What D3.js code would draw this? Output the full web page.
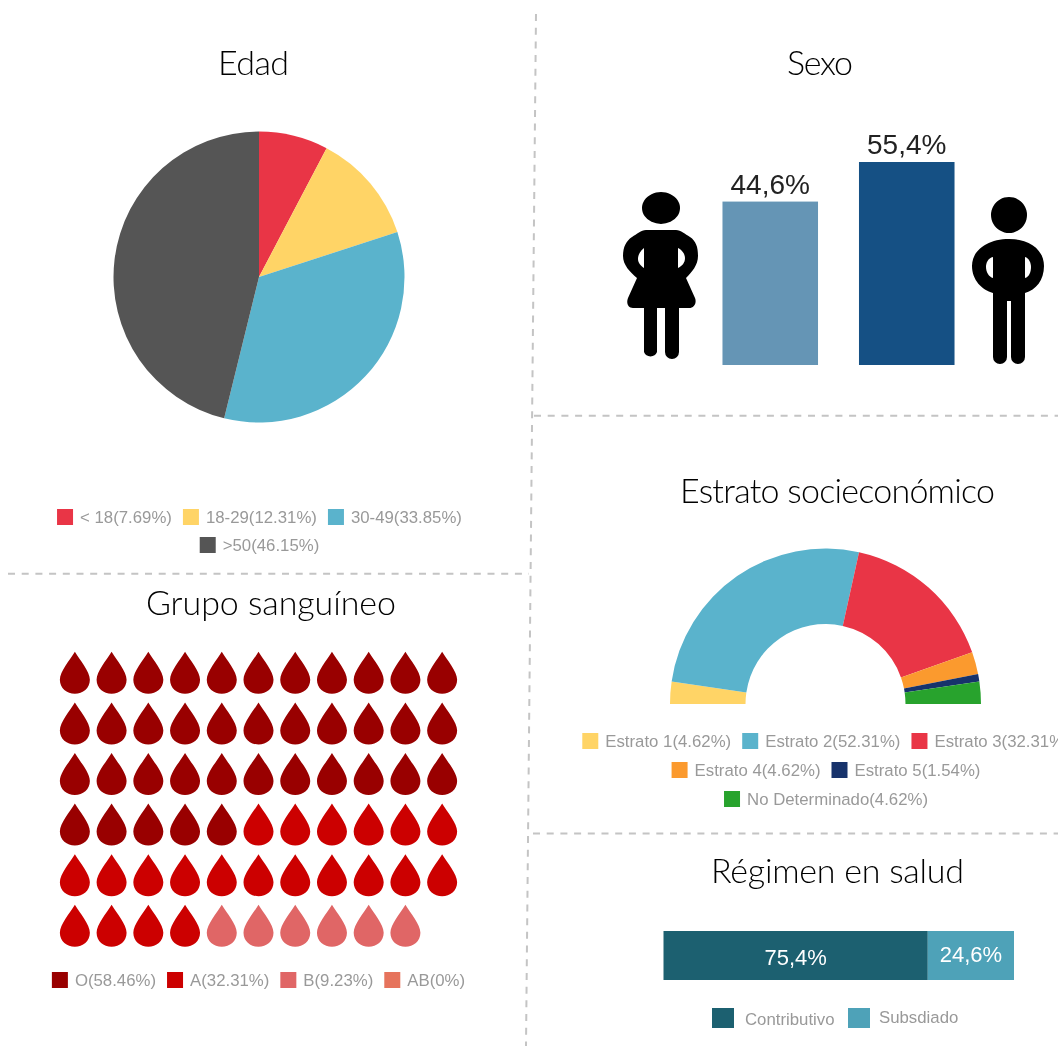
<!DOCTYPE html>
<html><head><meta charset="utf-8">
<script src="https://cdn.jsdelivr.net/npm/d3@7/dist/d3.min.js"></script>
<style>html,body{margin:0;padding:0;background:#fff;overflow:hidden}svg{display:block;filter:blur(0.4px)}
.title{font-family:Lato,sans-serif;font-weight:300;font-size:34px;fill:#000;text-anchor:middle}
.leg{font-family:"Liberation Sans",Arial,sans-serif;font-size:16.8px;fill:#999}
.val{font-family:"Liberation Sans",Arial,sans-serif;text-anchor:middle}
</style></head><body><svg id="c" width="1058" height="1046"></svg>
<script>
// ---- data ----
const edadLabels = ["< 18","18-29","30-49",">50"];
const edadValues = [7.69,12.31,33.85,46.15];
const edadColors = ["#e93546","#ffd466","#5ab3cc","#555555"];
const sexoLabels = ["44,6%","55,4%"];
const sexoValues = [44.6,55.4];
const sexoColors = ["#6595b5","#155084"];
const estratoLabels = ["Estrato 1","Estrato 2","Estrato 3","Estrato 4","Estrato 5","No Determinado"];
const estratoValues = [4.62,52.31,32.31,4.62,1.54,4.62];
const estratoColors = ["#ffd466","#5ab3cc","#e93546","#fb9a2e","#17336b","#28a32d"];
const grupoLabels = ["O","A","B","AB"];
const grupoValues = [58.46,32.31,9.23,0];
const grupoCounts = [38,21,6,0];
const grupoColors = ["#990000","#cc0000","#e06666","#e6735c"];
const regimenLabels = ["Contributivo","Subsdiado"];
const regimenValues = [75.4,24.6];
const regimenText = ["75,4%","24,6%"];
const regimenColors = ["#1c6070","#4ea2b8"];
const titles = ["Edad","Sexo","Estrato socieconómico","Grupo sanguíneo","Régimen en salud"];

const svg = d3.select("#c");

// dashed dividers
[[536,14,526,1046],[8,573.7,529,573.7],[534,415.7,1058,415.7],[533,833.5,1058,833.5]].forEach(l=>{
  svg.append("line").attr("x1",l[0]).attr("y1",l[1]).attr("x2",l[2]).attr("y2",l[3])
    .attr("stroke","#c4c4c4").attr("stroke-width",2).attr("stroke-dasharray","7 6.7");
});

// titles
const titlePos = [[253.5,75,71],[820,75,66],[837.5,503,315],[271,615,250],[837.5,883,253]];
titles.forEach((t,i)=>{
  svg.append("text").attr("class","title").attr("x",titlePos[i][0]).attr("y",titlePos[i][1])
    .attr("textLength",titlePos[i][2]).attr("lengthAdjust","spacing").text(t);
});

// centred flowing legend
function legend(rows,cx,ys){
  rows.forEach((row,r)=>{
    const g = svg.append("g");
    let x = 0;
    row.forEach(it=>{
      g.append("rect").attr("x",x).attr("y",-8).attr("width",16).attr("height",16).attr("fill",it.c);
      const t = g.append("text").attr("class","leg").attr("x",x+23).attr("y",5.5).text(it.t);
      x += 23 + t.node().getComputedTextLength() + 11;
    });
    g.attr("transform",`translate(${cx-(x-11)/2},${ys[r]})`);
  });
}
const items = (labels,values,colors)=>labels.map((l,i)=>({t:`${l}(${values[i]}%)`,c:colors[i]}));

// Edad pie
const pie = d3.pie().sort(null).value(d=>d);
const gPie = svg.append("g").attr("transform","translate(259,277)");
gPie.selectAll("path").data(pie(edadValues)).join("path")
  .attr("d",d3.arc().innerRadius(0).outerRadius(145.5))
  .attr("fill",(d,i)=>edadColors[i]);
const ei = items(edadLabels,edadValues,edadColors);
legend([ei.slice(0,3),ei.slice(3)],259.5,[517,545]);

// Sexo bars
const xS = d3.scaleBand().domain(sexoLabels).range([702,975]).paddingInner(0.3).paddingOuter(0.15);
const yS = d3.scaleLinear().domain([0,55.4]).range([365,162]);
svg.selectAll(".bar").data(sexoValues).join("rect").attr("class","bar")
  .attr("x",(d,i)=>xS(sexoLabels[i])).attr("width",xS.bandwidth())
  .attr("y",d=>yS(d)).attr("height",d=>yS(0)-yS(d))
  .attr("fill",(d,i)=>sexoColors[i]);
svg.selectAll(".barl").data(sexoValues).join("text").attr("class","val barl")
  .attr("x",(d,i)=>xS(sexoLabels[i])+xS.bandwidth()/2).attr("y",d=>yS(d)-8)
  .attr("font-size",28).attr("fill","#222").text((d,i)=>sexoLabels[i]);

// pictograms
svg.append("path").attr("fill-rule","evenodd").attr("fill","#000").attr("d",
 "M661 192a19 16 0 1 0 .01 0Z"+
 "M646 230H676C681 230 685 234 690 237C696 241 698 247 698 256C698 265 692 272 686 278L695 298C697 303 694 308 689 308H679V352a7 7 0 0 1-14 0V308H657V352a7 7 0 0 1-13 0V308H633C628 308 626 303 628 298L637 278C630 272 623 265 623 256C623 247 626 241 632 237C637 234 641 230 646 230Z"+
 "M644 248C640 251 638 255 638 259C638 263 641 266 644 268Z"+
 "M678 248V268C682 266 685 263 685 258C685 254 682 250 678 248Z");
svg.append("path").attr("fill-rule","evenodd").attr("fill","#000").attr("d",
 "M1009 197a18 18 0 1 0 .01 0Z"+
 "M1009 239C1030 239 1044 250 1044 266C1044 280 1036 290 1025 293V357a7 7 0 0 1-14 0V301H1007V357a7 7 0 0 1-14 0V293C982 290 972 280 972 266C972 250 988 239 1009 239Z"+
 "M993 257C988 258 986 263 986 267C986 272 989 277 993 278Z"+
 "M1025 257V278C1029 277 1031 272 1031 267C1031 263 1029 258 1025 257Z");

// Estrato semicircle
const semi = d3.pie().sort(null).value(d=>d).startAngle(-Math.PI/2).endAngle(Math.PI/2);
const gS = svg.append("g").attr("transform","translate(825.5,704)");
gS.selectAll("path").data(semi(estratoValues)).join("path")
  .attr("d",d3.arc().innerRadius(80).outerRadius(155.5))
  .attr("fill",(d,i)=>estratoColors[i]);
const si = items(estratoLabels,estratoValues,estratoColors);
legend([si.slice(0,3),si.slice(3,5),si.slice(5)],826,[741,770,799]);

// Grupo drops
const cols = d3.range(11), rows = d3.range(6);
const xD = d3.scaleBand().domain(cols).range([56.5,460.5]);
const yD = d3.scaleBand().domain(rows).range([648,951.5]);
const drops = grupoCounts.flatMap((n,i)=>d3.range(n).map(()=>i));
svg.selectAll(".drop").data(drops).join("path").attr("class","drop")
  .attr("transform",(d,i)=>`translate(${xD(i%11)+xD.bandwidth()/2},${yD(Math.floor(i/11))+yD.bandwidth()/2})`)
  .attr("d","M0 -21.5C5 -13 15 -2 15 6.5C15 15 8 20.5 0 20.5C-8 20.5 -15 15 -15 6.5C-15 -2 -5 -13 0 -21.5Z")
  .attr("fill",d=>grupoColors[d]);
legend([items(grupoLabels,grupoValues,grupoColors)],258.5,[980]);

// Regimen stacked bar
const xR = d3.scaleLinear().domain([0,100]).range([663.5,1014]);
const stack = d3.cumsum(regimenValues);
svg.selectAll(".seg").data(regimenValues).join("rect").attr("class","seg")
  .attr("x",(d,i)=>xR(stack[i]-d)).attr("width",d=>xR(d)-xR(0))
  .attr("y",931).attr("height",49).attr("fill",(d,i)=>regimenColors[i]);
svg.selectAll(".segl").data(regimenValues).join("text").attr("class","val segl")
  .attr("x",(d,i)=>xR(stack[i]-d/2)).attr("y",(d,i)=>i?962:965)
  .attr("font-size",22).attr("fill","#fff").text((d,i)=>regimenText[i]);
[[712,745,1025],[848,879,1023]].forEach((p,i)=>{
  svg.append("rect").attr("x",p[0]).attr("y",1008).attr("width",22).attr("height",20).attr("fill",regimenColors[i]);
  svg.append("text").attr("class","leg").attr("x",p[1]).attr("y",p[2]).text(regimenLabels[i]);
});
</script></body></html>
